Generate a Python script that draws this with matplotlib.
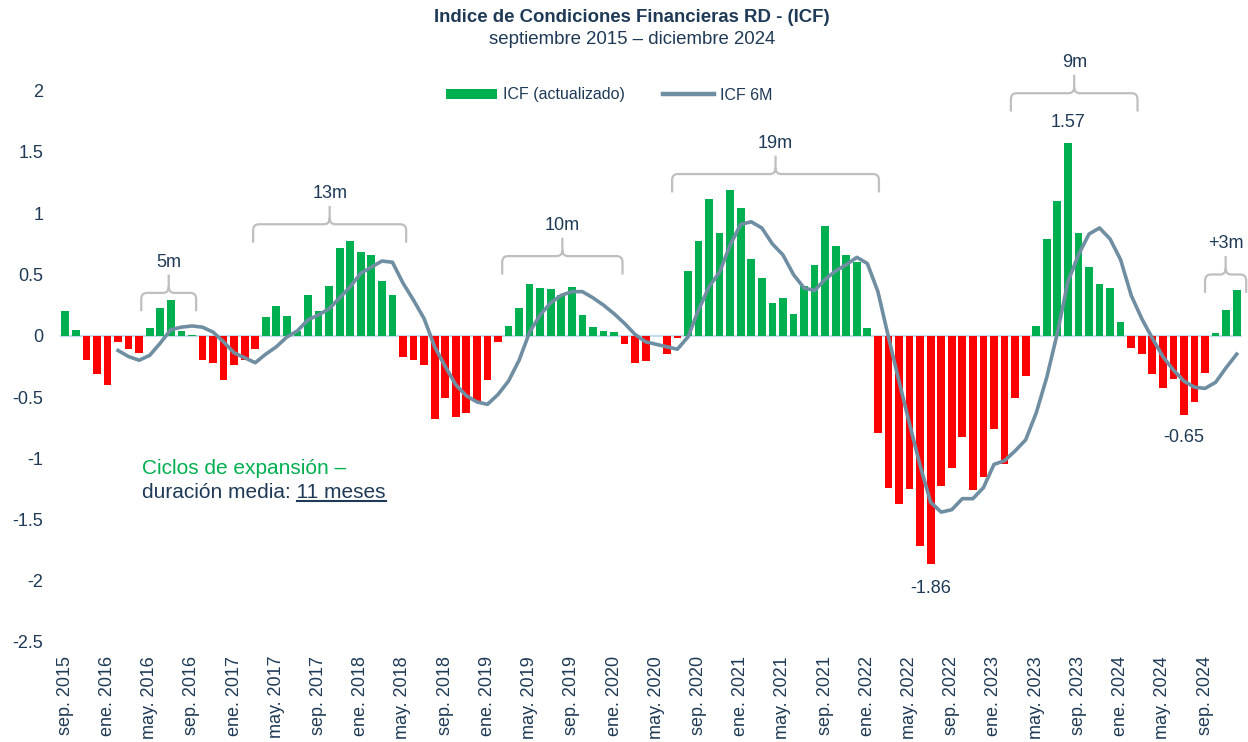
import numpy as np
import matplotlib
matplotlib.use("Agg")
import matplotlib.pyplot as plt
from matplotlib.path import Path
from matplotlib.patches import PathPatch, Patch
from matplotlib.lines import Line2D

plt.rcParams['font.family'] = ['Liberation Sans', 'DejaVu Sans']

# ICF (actualizado), monthly sep 2015 - dic 2024
icf = [0.20, 0.05, -0.20, -0.31, -0.40, -0.05, -0.11, -0.14, 0.06, 0.23,
       0.29, 0.04, 0.01, -0.20, -0.22, -0.36, -0.24, -0.20, -0.11, 0.15,
       0.24, 0.16, 0.04, 0.33, 0.20, 0.41, 0.72, 0.77, 0.68, 0.66,
       0.45, 0.33, -0.17, -0.20, -0.24, -0.68, -0.51, -0.66, -0.63, -0.54,
       -0.36, -0.05, 0.08, 0.23, 0.42, 0.39, 0.38, 0.33, 0.40, 0.17,
       0.07, 0.04, 0.03, -0.07, -0.22, -0.21, 0.0, -0.15, -0.02, 0.53,
       0.77, 1.12, 0.84, 1.19, 1.04, 0.63, 0.47, 0.27, 0.31, 0.18,
       0.41, 0.58, 0.90, 0.73, 0.66, 0.60, 0.06, -0.79, -1.24, -1.37,
       -1.25, -1.72, -1.86, -1.23, -1.08, -0.83, -1.26, -1.15, -0.76, -1.05,
       -0.51, -0.33, 0.08, 0.79, 1.10, 1.57, 0.84, 0.56, 0.42, 0.39,
       0.11, -0.10, -0.15, -0.31, -0.43, -0.35, -0.65, -0.54, -0.30, 0.02,
       0.21, 0.37]

# ICF 6M, starts at the 6th month (feb 2016)
icf_6m_start = 5
icf_6m = [-0.12, -0.17, -0.20, -0.16, -0.06, 0.05, 0.07, 0.08, 0.07, 0.03,
          -0.05, -0.14, -0.18, -0.22, -0.15, -0.09, -0.01, 0.04, 0.13, 0.17,
          0.22, 0.31, 0.40, 0.51, 0.56, 0.61, 0.60, 0.43, 0.29, 0.14,
          -0.09, -0.25, -0.40, -0.49, -0.54, -0.56, -0.48, -0.37, -0.20, 0.03,
          0.17, 0.27, 0.33, 0.36, 0.36, 0.31, 0.25, 0.18, 0.10, 0.01,
          -0.05, -0.07, -0.09, -0.11, -0.01, 0.21, 0.40, 0.52, 0.74, 0.91,
          0.93, 0.88, 0.75, 0.66, 0.50, 0.39, 0.37, 0.46, 0.53, 0.58,
          0.64, 0.59, 0.36, -0.01, -0.37, -0.72, -1.06, -1.36, -1.44, -1.42,
          -1.33, -1.33, -1.24, -1.05, -1.02, -0.94, -0.85, -0.63, -0.34, 0.02,
          0.44, 0.66, 0.83, 0.88, 0.79, 0.62, 0.33, 0.14, -0.02, -0.17,
          -0.28, -0.37, -0.42, -0.43, -0.38, -0.26, -0.15]

tick_labels = ["sep. 2015", "ene. 2016", "may. 2016", "sep. 2016",
               "ene. 2017", "may. 2017", "sep. 2017", "ene. 2018",
               "may. 2018", "sep. 2018", "ene. 2019", "may. 2019",
               "sep. 2019", "ene. 2020", "may. 2020", "sep. 2020",
               "ene. 2021", "may. 2021", "sep. 2021", "ene. 2022",
               "may. 2022", "sep. 2022", "ene. 2023", "may. 2023",
               "sep. 2023", "ene. 2024", "may. 2024", "sep. 2024"]

yticks = [-2.5, -2, -1.5, -1, -0.5, 0, 0.5, 1, 1.5, 2]
ytick_labels = ["-2.5", "-2", "-1.5", "-1", "-0.5", "0", "0.5", "1", "1.5", "2"]

# expansion cycles: label, first / last bar index covered, height of brace
cycle_labels = ["5m", "13m", "10m", "19m", "9m", "+3m"]
cycle_x0 = [7.2, 17.8, 41.4, 57.5, 89.6, 108.0]
cycle_x1 = [12.4, 32.3, 52.8, 77.1, 101.6, 111.9]
cycle_y = [0.35, 0.91, 0.65, 1.32, 1.98, 0.50]

GREEN = "#00b050"
RED = "#ff0000"
LINE = "#6f8ea2"
NAVY = "#1f3a56"
GRAY = "#bfbfbf"

W, H = 1248, 742
fig = plt.figure(figsize=(W / 100, H / 100), dpi=100)
ax = fig.add_axes([60 / W, 100 / H, 1182 / W, 588 / H])

x = np.arange(len(icf))
bar_colors = [GREEN if v >= 0 else RED for v in icf]
ax.axhline(0, color="#c5dcef", lw=1.6, zorder=1)
ax.bar(x, icf, width=0.73, color=bar_colors, zorder=2)
ax.plot(x[icf_6m_start:], icf_6m, color=LINE, lw=2.6, zorder=3,
        solid_joinstyle="round")

ax.set_xlim(-0.5, len(icf) - 0.5)
ax.set_ylim(-2.5, 2.3)
ax.set_xticks(x[::4])
ax.set_xticklabels(tick_labels, rotation=90, fontsize=13, color=NAVY)
ax.set_yticks(yticks)
ax.set_yticklabels(ytick_labels, fontsize=13, color=NAVY)
ax.tick_params(axis="y", length=0, pad=12)
ax.tick_params(axis="x", length=0, pad=10)
for s in ax.spines.values():
    s.set_visible(False)


def brace(x0, x1, yh, depth=0.15, rx=0.55, ry=0.05):
    xc = (x0 + x1) / 2
    verts = [(x0, yh - depth), (x0, yh - ry), (x0, yh), (x0 + rx, yh),
             (xc - rx, yh), (xc, yh), (xc, yh + ry), (xc, yh + depth),
             (x1, yh - depth), (x1, yh - ry), (x1, yh), (x1 - rx, yh),
             (xc + rx, yh), (xc, yh), (xc, yh + ry)]
    codes = [Path.MOVETO, Path.LINETO, Path.CURVE3, Path.CURVE3,
             Path.LINETO, Path.CURVE3, Path.CURVE3, Path.LINETO,
             Path.MOVETO, Path.LINETO, Path.CURVE3, Path.CURVE3,
             Path.LINETO, Path.CURVE3, Path.CURVE3]
    return PathPatch(Path(verts, codes), fill=False, edgecolor=GRAY, lw=1.6,
                     clip_on=False, zorder=4)


for lab, a, b, yh in zip(cycle_labels, cycle_x0, cycle_x1, cycle_y):
    ax.add_patch(brace(a, b, yh))
    ax.text((a + b) / 2, yh + 0.25, lab, ha="center", va="center",
            fontsize=13, color=NAVY)

# value labels
ax.text(95, 1.74, "1.57", ha="center", va="center", fontsize=13, color=NAVY)
ax.text(82, -2.06, "-1.86", ha="center", va="center", fontsize=13, color=NAVY)
ax.text(106, -0.83, "-0.65", ha="center", va="center", fontsize=13, color=NAVY)

# title
fig.text(632 / W, 1 - 17 / H, "Indice de Condiciones Financieras RD - (ICF)",
         ha="center", va="center", fontsize=13.4, fontweight="bold", color=NAVY)
fig.text(632 / W, 1 - 40 / H, "septiembre 2015 \u2013 diciembre 2024",
         ha="center", va="center", fontsize=13.4, color=NAVY)

# legend
handles = [Patch(facecolor=GREEN, edgecolor="none"),
           Line2D([0], [0], color=LINE, lw=3.2)]
fig.legend(handles, ["ICF (actualizado)", "ICF 6M"], ncol=2, frameon=False,
           fontsize=11.5, handlelength=3.2, handleheight=0.55,
           handletextpad=0.35, columnspacing=2.4, labelcolor=NAVY,
           loc="center", bbox_to_anchor=(609 / W, 1 - 95 / H))

# note on expansion cycles
fig.text(142 / W, 1 - 468 / H, "Ciclos de expansión \u2013", ha="left",
         va="center", fontsize=15, color=GREEN)
t2 = fig.text(142 / W, 1 - 492 / H, "duración media: 11 meses", ha="left",
              va="center", fontsize=15, color=NAVY)
renderer = fig.canvas.get_renderer()
bb = t2.get_window_extent(renderer)
tmp = fig.text(0, 0, "11 meses", fontsize=15)
w_tail = tmp.get_window_extent(renderer).width
tmp.remove()
uy = 1 - 501 / H
fig.add_artist(Line2D([(bb.x1 - w_tail) / W, bb.x1 / W], [uy, uy],
                      transform=fig.transFigure, color=NAVY, lw=1.5))

fig.savefig("out.png", dpi=100)
